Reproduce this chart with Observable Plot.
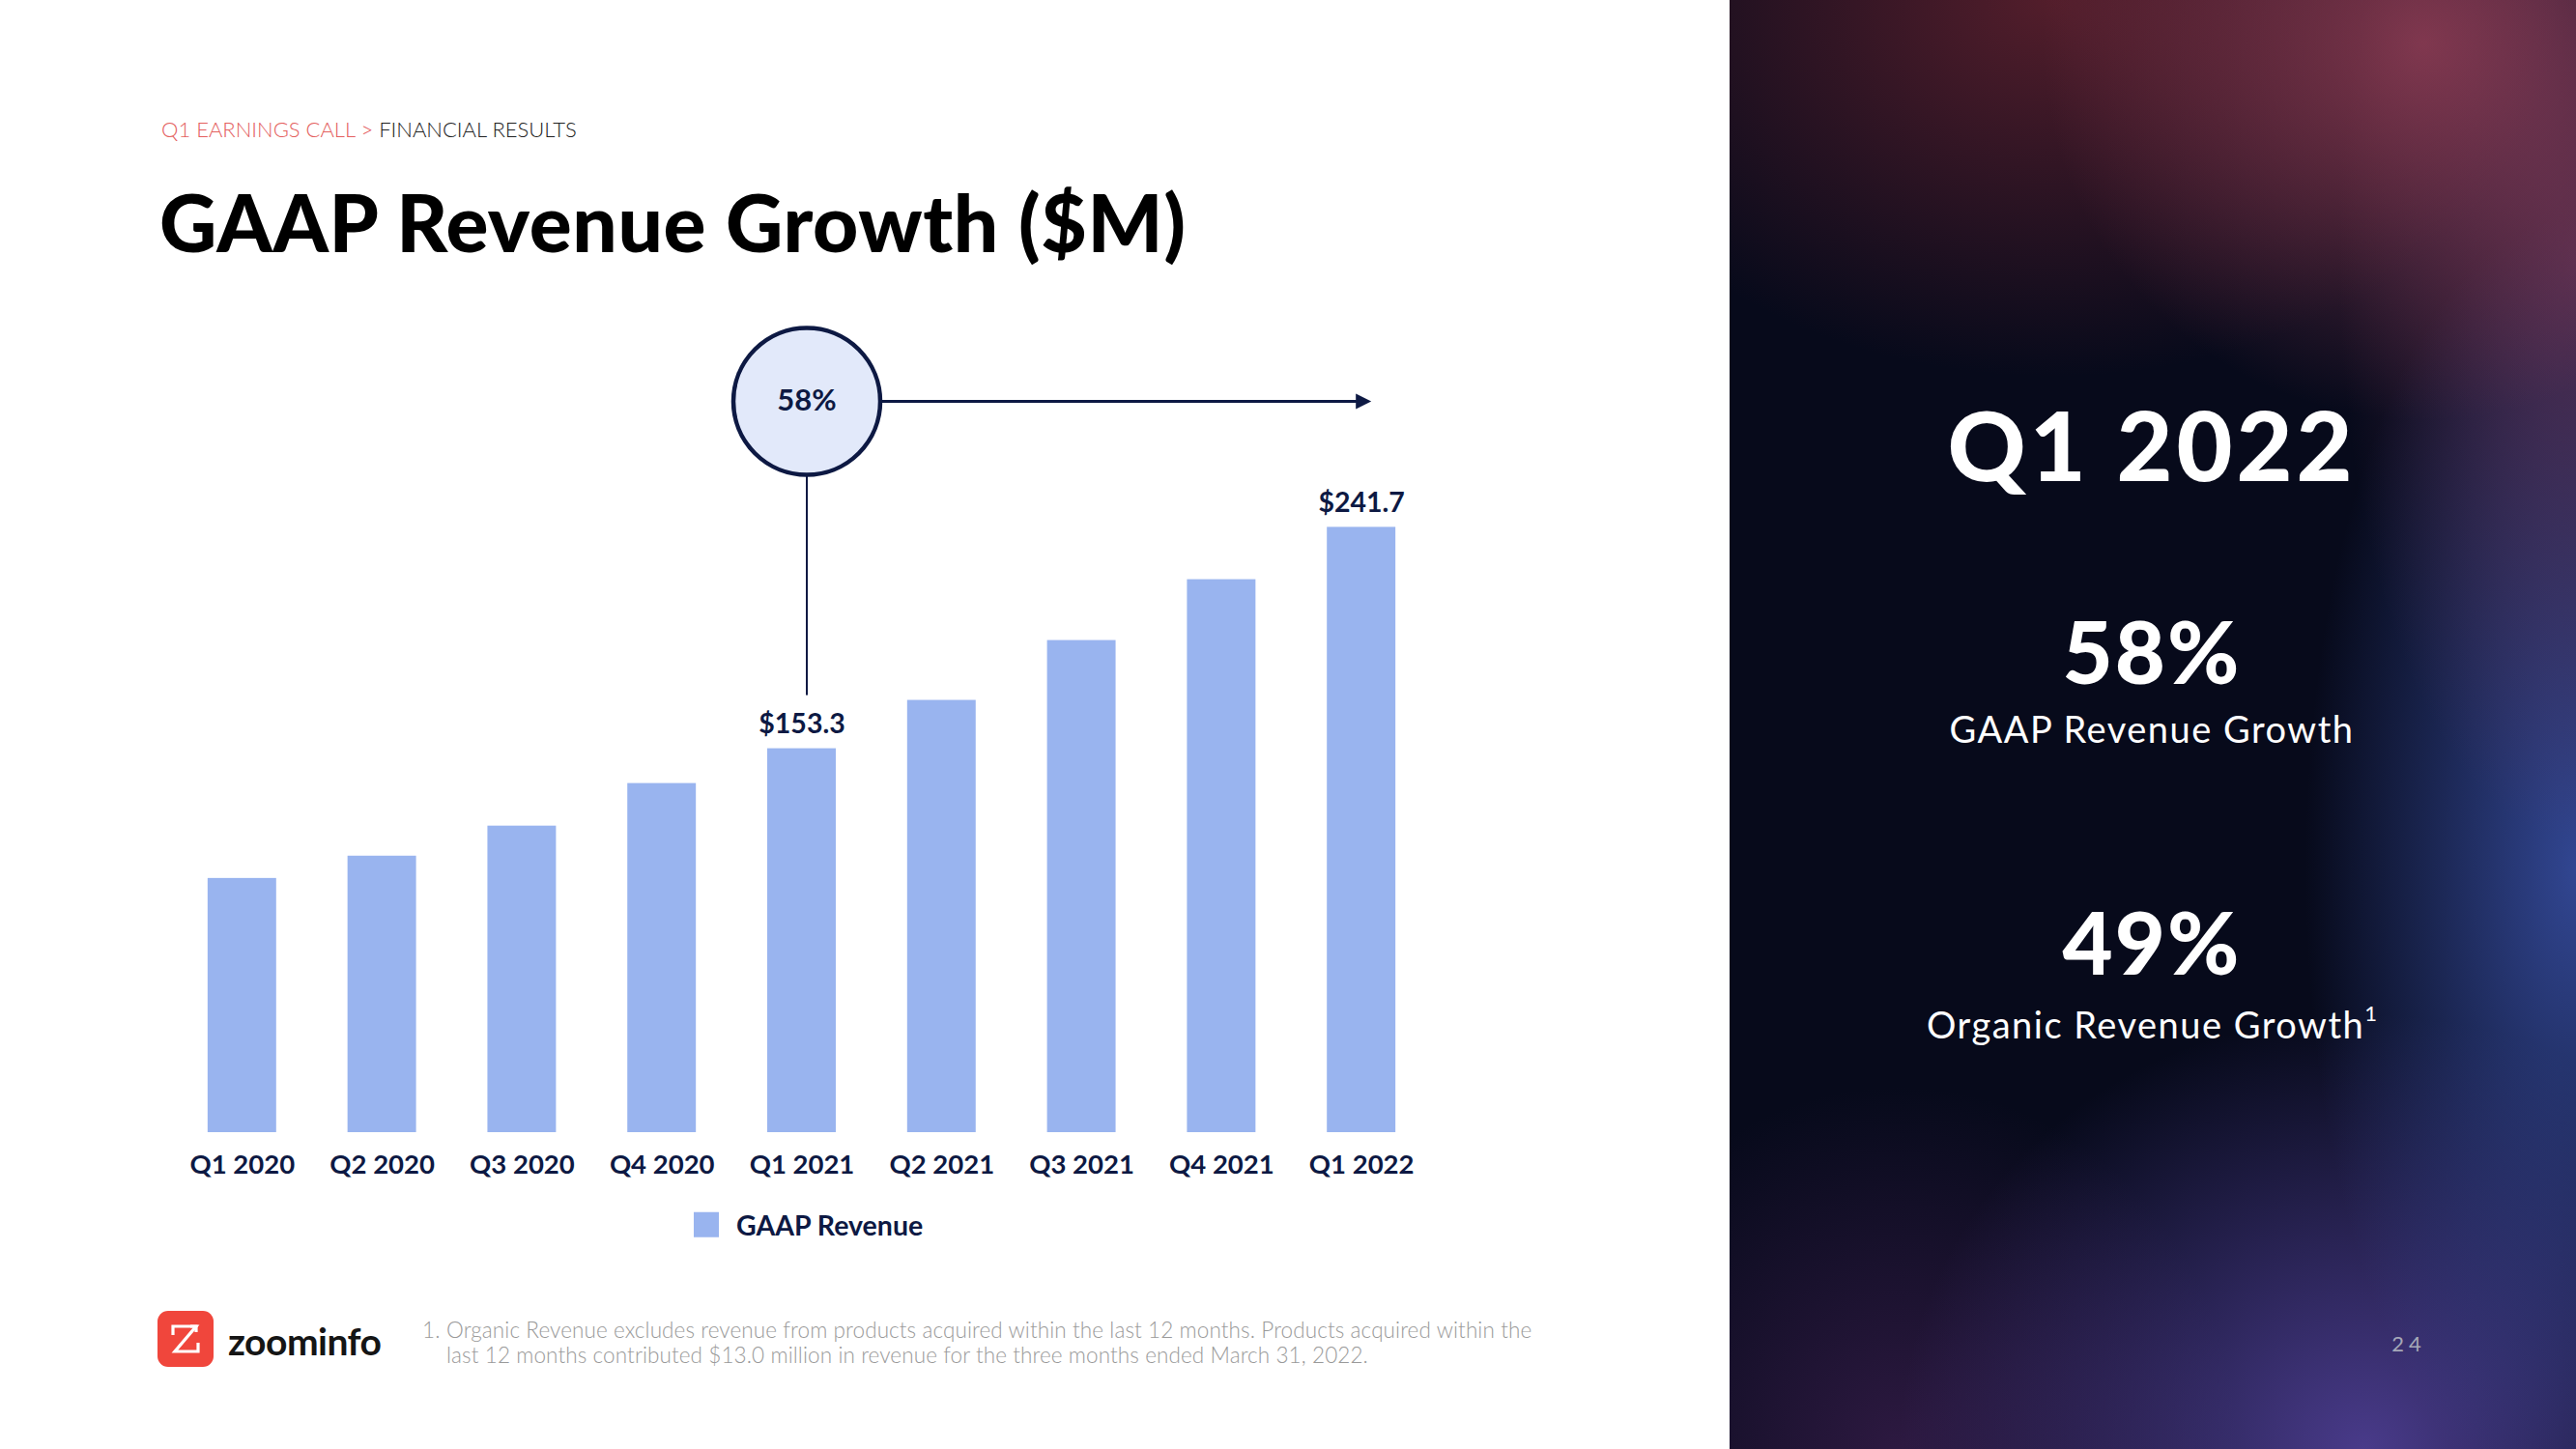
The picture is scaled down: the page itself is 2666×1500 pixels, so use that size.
<!DOCTYPE html>
<html>
<head>
<meta charset="utf-8">
<script src="https://cdn.jsdelivr.net/npm/d3@7"></script>
<script src="https://cdn.jsdelivr.net/npm/@observablehq/plot@0.6"></script>
<style>
  html, body { margin: 0; padding: 0; }
  body { width: 2666px; height: 1500px; position: relative; overflow: hidden; background: #ffffff; font-family: Lato, "Noto Sans", sans-serif; }
  .abs { position: absolute; white-space: nowrap; line-height: 1; }
  .cy { transform: translateY(-50%); }
  .cxy { transform: translate(-50%, -50%); }
  #crumb { left: 167px; top: 134px; font-size: 22px; font-weight: 300; color: #222; }
  #crumb .red { color: #e4605e; }
  #title { left: 165px; top: 229px; font-size: 82px; font-weight: 900; color: #000; letter-spacing: 0.6px; }
  #chart { position: absolute; left: 0; top: 300px; }
  #legend { left: 718px; top: 1268px; display: flex; align-items: center; font-size: 28.5px; font-weight: 700; color: #0d1943; }
  #legend .sw { width: 26px; height: 26px; background: #99b4ef; margin-right: 18px; }
  #logo { left: 163px; top: 1357px; width: 58px; height: 58px; border-radius: 11px; background: #f0463c; }
  #logotext { left: 236px; top: 1388px; font-size: 39px; font-weight: 700; color: #151515; letter-spacing: -0.5px; }
  #foot { left: 437px; top: 1364px; font-size: 22.5px; font-weight: 300; color: #9a9a9a; line-height: 26px; letter-spacing: 0.1px; }
  #foot .n { display: inline-block; width: 25px; }
  #panel { position: absolute; left: 1790px; top: 0; width: 876px; height: 1500px;
    background:
      radial-gradient(ellipse 45% 26% at 82% 3%, rgba(165,70,95,0.7), rgba(165,70,95,0) 100%),
      radial-gradient(ellipse 60% 26% at 38% 0%, rgba(115,38,50,0.7), rgba(115,38,50,0) 100%),
      radial-gradient(ellipse 28% 40% at 100% 18%, rgba(140,70,115,0.5), rgba(140,70,115,0) 100%),
      radial-gradient(ellipse 32% 45% at 100% 60%, rgba(60,85,175,0.8), rgba(60,85,175,0) 100%),
      radial-gradient(ellipse 55% 30% at 75% 100%, rgba(95,75,175,0.75), rgba(95,75,175,0) 100%),
      radial-gradient(ellipse 40% 25% at 20% 100%, rgba(70,35,90,0.6), rgba(70,35,90,0) 100%),
      #070a1b; }
  .w { color: #ffffff; }
  #q { left: 437px; top: 459px; font-size: 100px; font-weight: 900; letter-spacing: 4px; }
  #p1 { left: 437px; top: 673px; font-size: 90px; font-weight: 900; letter-spacing: 2px; }
  #l1 { left: 437px; top: 754px; font-size: 38px; font-weight: 400; letter-spacing: 1.5px; }
  #p2 { left: 437px; top: 974px; font-size: 90px; font-weight: 900; letter-spacing: 2px; }
  #l2 { left: 437px; top: 1058px; font-size: 38px; font-weight: 400; letter-spacing: 1.5px; }
  #l2 sup { font-size: 22px; vertical-align: 18px; letter-spacing: 0; }
  #pg { left: 703px; top: 1391px; font-size: 22px; color: #a5a8b8; letter-spacing: 5px; }
</style>
</head>
<body>
<div id="crumb" class="abs cy"><span class="red">Q1 EARNINGS CALL &gt;</span> FINANCIAL RESULTS</div>
<div id="title" class="abs cy">GAAP Revenue Growth ($M)</div>
<div id="chart"></div>
<div id="legend" class="abs cy"><div class="sw"></div><span>GAAP Revenue</span></div>
<div id="logo" class="abs">
  <svg width="58" height="58" viewBox="0 0 58 58">
    <g fill="none" stroke="#fff" stroke-width="3.2">
      <polyline points="16,25 16,16 40,16 18,42 42,42 42,33"/>
      <polyline points="34,16 40,16 40,22"/>
    </g>
  </svg>
</div>
<div id="logotext" class="abs cy">zoominfo</div>
<div id="foot" class="abs"><span class="n">1.</span>Organic Revenue excludes revenue from products acquired within the last 12 months. Products acquired within the<br><span class="n"></span>last 12 months contributed $13.0 million in revenue for the three months ended March 31, 2022.</div>
<div id="panel">
  <div id="q" class="abs cxy w">Q1 2022</div>
  <div id="p1" class="abs cxy w">58%</div>
  <div id="l1" class="abs cxy w">GAAP Revenue Growth</div>
  <div id="p2" class="abs cxy w">49%</div>
  <div id="l2" class="abs cxy w">Organic Revenue Growth<sup>1</sup></div>
  <div id="pg" class="abs cxy">24</div>
</div>
<script>
// ---- data ----
const quarters = ["Q1 2020", "Q2 2020", "Q3 2020", "Q4 2020", "Q1 2021", "Q2 2021", "Q3 2021", "Q4 2021", "Q1 2022"];
const revenue = [101.5, 110.4, 122.4, 139.4, 153.3, 172.6, 196.5, 220.8, 241.7];
const labeledQuarters = ["Q1 2021", "Q1 2022"];
const growthFrom = "Q1 2021";
const growthTo = "Q1 2022";
const growthLabel = "58%";
const seriesName = "GAAP Revenue";

const yMax = 292; // top of the plotting frame (annotation row)

const navy = "#0d1943";
const barColor = "#99b4ef";

const data = quarters.map((q, i) => ({quarter: q, revenue: revenue[i]}));
const labeled = data.filter(d => labeledQuarters.includes(d.quarter));
const fromRow = data.find(d => d.quarter === growthFrom);
const note = [{from: growthFrom, to: growthTo, y: yMax, base: fromRow.revenue, label: growthLabel}];

const triangleRight = {
  draw(context) {
    context.moveTo(0, -8);
    context.lineTo(16, 0);
    context.lineTo(0, 8);
    context.closePath();
  }
};

const chart = Plot.plot({
  width: 1790,
  height: 930,
  marginTop: 115,
  marginBottom: 58,
  marginLeft: 141,
  marginRight: 272,
  style: {fontFamily: "Lato, 'Noto Sans', sans-serif", background: "transparent", overflow: "visible"},
  x: {type: "band", domain: quarters, padding: 0.51, round: false, axis: null},
  y: {domain: [0, yMax], axis: null},
  marks: [
    Plot.barY(data, {x: "quarter", y: "revenue", fill: barColor}),
    Plot.axisX({tickSize: 0, tickPadding: 23, fontSize: 27.5, fontWeight: 700, fill: navy, label: null}),
    Plot.text(labeled, {x: "quarter", y: "revenue", text: d => "$" + d.revenue.toFixed(1), dy: -25, fontSize: 28.5, fontWeight: 700, fill: navy}),
    Plot.ruleX(note, {x: "from", y1: "y", y2: "base", insetTop: 76, insetBottom: 55, stroke: navy, strokeWidth: 2, dx: 5}),
    Plot.arrow(note, {x1: "from", x2: "to", y1: "y", y2: "y", insetStart: 81, insetEnd: 6, headLength: 0, stroke: navy, strokeWidth: 3}),
    Plot.dot(note, {x: "to", y: "y", symbol: triangleRight, fill: navy, stroke: "none", dx: -6}),
    Plot.dot(note, {x: "from", y: "y", r: 76, fill: "#e2e9fa", stroke: navy, strokeWidth: 4.5, dx: 5}),
    Plot.text(note, {x: "from", y: "y", text: "label", fontSize: 31, fontWeight: 700, fill: navy, dx: 5})
  ]
});
document.getElementById("chart").appendChild(chart);
</script>
</body>
</html>
